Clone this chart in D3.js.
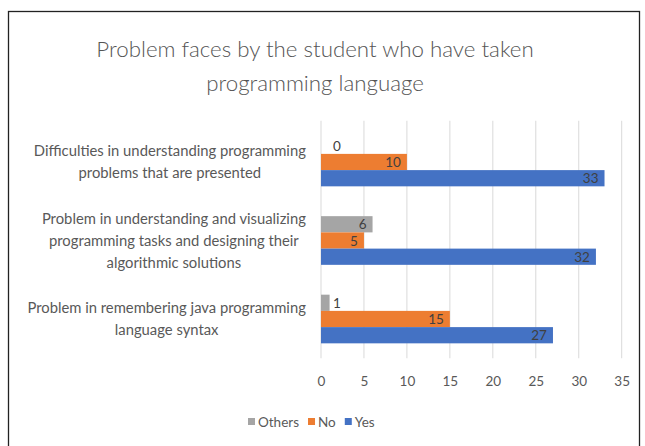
<!DOCTYPE html>
<html>
<head>
<meta charset="utf-8">
<script src="https://cdn.jsdelivr.net/npm/d3@7"></script>
<style>
  html, body { margin: 0; padding: 0; background: #fff; }
  svg { display: block; }
  text { font-family: Lato, "Open Sans", sans-serif; }
</style>
</head>
<body>
<svg id="chart" width="645" height="446"></svg>
<script>
// Survey responses per problem statement
const categories = [
  ["Difficulties in understanding programming", "problems that are presented"],
  ["Problem in understanding and visualizing", "programming tasks and designing their", "algorithmic solutions"],
  ["Problem in remembering java programming", "language syntax"]
];
const seriesNames = ["Others", "No", "Yes"];
const othersValues = [0, 6, 1];
const noValues = [10, 5, 15];
const yesValues = [33, 32, 27];
const xTicks = [0, 5, 10, 15, 20, 25, 30, 35];
const titleLines = ["Problem faces by the student who have taken", "programming language"];

const colors = { Others: "#A5A5A5", No: "#ED7D31", Yes: "#4472C4" };
const valuesBySeries = { Others: othersValues, No: noValues, Yes: yesValues };

const svg = d3.select("#chart");

// outer frame
svg.append("rect")
  .attr("x", 8.5).attr("y", 11.5)
  .attr("width", 631).attr("height", 460)
  .attr("fill", "#fff").attr("stroke", "#222").attr("stroke-width", 1.3);

// title
svg.append("g").selectAll("text").data(titleLines).join("text")
  .attr("x", 315).attr("y", (d, i) => 57 + i * 34)
  .attr("text-anchor", "middle")
  .attr("font-size", 22.3)
  .attr("font-weight", 300)
  .attr("fill", "#555")
  .text(d => d);

const plot = { left: 321, right: 621.7, top: 122.75, bottom: 358.25 };

const x = d3.scaleLinear().domain([0, 35]).range([plot.left, plot.right]);
const y = d3.scaleBand().domain(d3.range(categories.length))
  .range([plot.top, plot.bottom]).paddingInner(0.38).paddingOuter(0.19);
const ySeries = d3.scaleBand().domain(seriesNames).range([0, y.bandwidth()]);

// vertical gridlines
svg.append("g").selectAll("line").data(xTicks).join("line")
  .attr("x1", d => x(d)).attr("x2", d => x(d))
  .attr("y1", plot.top - 2).attr("y2", plot.bottom)
  .attr("stroke", "#D9D9D9").attr("stroke-width", 1);

// x axis tick labels
const xAxis = d3.axisBottom(x).tickValues(xTicks).tickSize(0).tickPadding(0);
const gx = svg.append("g").attr("transform", `translate(0,${plot.bottom + 28})`).call(xAxis);
gx.select(".domain").remove();
gx.selectAll("text").attr("font-size", 13.5).attr("fill", "#595959")
  .attr("font-family", "Lato, 'Open Sans', sans-serif").attr("dy", 0);

// category labels (multi-line, centred block, right-aligned to the plot)
const catG = svg.append("g");
categories.forEach((lines, i) => {
  const cy = y(i) + y.bandwidth() / 2;
  const lh = 22;
  const t = catG.append("text")
    .attr("text-anchor", "middle")
    .attr("font-size", 14.8)
    .attr("fill", "#595959");
  lines.forEach((ln, j) => {
    t.append("tspan")
      .attr("x", 0)
      .attr("y", cy + (j - (lines.length - 1) / 2) * lh + 5)
      .text(ln);
  });
  const bb = t.node().getBBox();
  t.attr("transform", `translate(${306 - bb.width / 2},0)`);
});

// bars and data labels
const rows = [];
seriesNames.forEach(s => {
  valuesBySeries[s].forEach((v, i) => rows.push({ s, i, v }));
});

const barG = svg.append("g");
barG.selectAll("rect").data(rows).join("rect")
  .attr("x", x(0))
  .attr("y", d => y(d.i) + ySeries(d.s))
  .attr("width", d => x(d.v) - x(0))
  .attr("height", ySeries.bandwidth())
  .attr("fill", d => colors[d.s]);

barG.selectAll("text").data(rows).join("text")
  .attr("font-size", 13.5)
  .attr("fill", "#404040")
  .attr("y", d => y(d.i) + ySeries(d.s) + ySeries.bandwidth() / 2 + 5)
  .attr("text-anchor", d => (x(d.v) - x(0) < 24 ? "start" : "end"))
  .attr("x", d => (x(d.v) - x(0) < 24 ? Math.max(x(d.v) + 3, x(0) + 12) : x(d.v) - 6))
  .text(d => d.v);

// legend
const legend = svg.append("g").attr("transform", "translate(248,422)");
let lx = 0;
seriesNames.forEach(s => {
  const g = legend.append("g").attr("transform", `translate(${lx},0)`);
  g.append("rect").attr("x", 0).attr("y", -4).attr("width", 7).attr("height", 7).attr("fill", colors[s]);
  const t = g.append("text").attr("x", 10).attr("y", 4.5).attr("font-size", 13.5).attr("fill", "#595959").text(s);
  lx += 10 + t.node().getComputedTextLength() + 9;
});
</script>
</body>
</html>
